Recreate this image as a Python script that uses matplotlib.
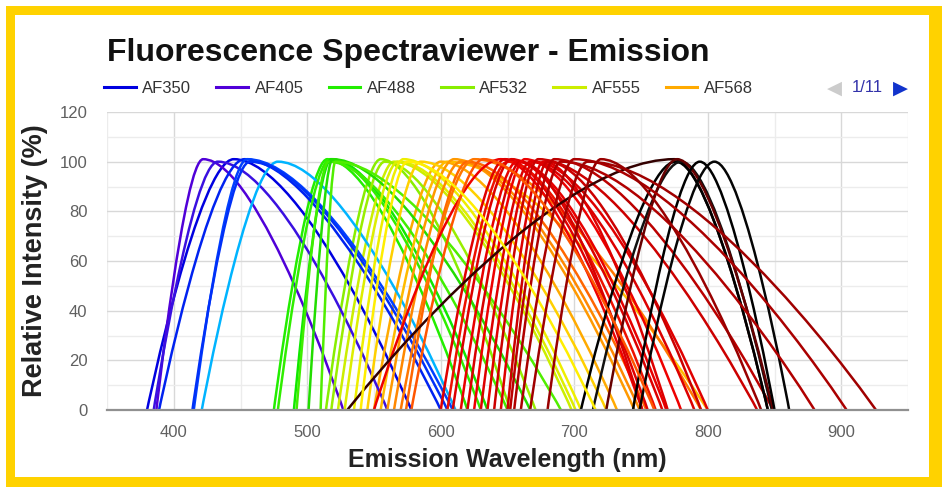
import matplotlib
matplotlib.use("Agg")
import matplotlib.pyplot as plt
from matplotlib.path import Path
from matplotlib.patches import PathPatch, Rectangle
from matplotlib.lines import Line2D
from matplotlib.ticker import MultipleLocator

plt.rcParams["font.family"] = ["Liberation Sans", "DejaVu Sans"]

# emission curves: start of emission, peak, end of emission (nm)
names = ["AF350", "AF405", "AF488", "AF532", "AF555", "AF568",
         "BV421", "AF430", "Pacific Blue", "BV480", "CFP", "AF500",
         "FITC", "GFP", "AF514", "YFP", "AF546", "TRITC", "PE",
         "AF594", "mCherry", "AF610", "PE-TR", "Texas Red", "AF633",
         "AF635", "APC", "AF647", "Cy5", "AF660", "PerCP", "PE-Cy5",
         "AF680", "Cy5.5", "PerCP-Cy5.5", "AF700", "APC-R700", "iRFP",
         "PE-Cy7", "APC-Cy7", "AF750", "Cy7", "AF790", "IRDye800",
         "BB700", "RY586", "PE-CF594", "BUV661", "BUV737", "NIR"]
start_nm = [380, 387, 475, 514, 523, 550,
            385, 421, 389, 415, 414, 478,
            490, 492, 518, 501, 510, 528, 535,
            545, 555, 560, 565, 574, 570,
            550, 600, 605, 609, 615, 620, 625,
            630, 635, 640, 645, 650, 652,
            530, 705, 714, 724, 744, 749,
            655, 578, 540, 660, 667, 680]
peak_nm = [445, 422, 515, 555, 565, 600,
           433, 478, 453, 455, 457, 517,
           518, 516, 558, 519, 521, 568, 572,
           585, 605, 610, 615, 620, 625,
           645, 648, 650, 653, 657, 660, 663,
           667, 670, 673, 677, 680, 685,
           775, 776, 780, 777, 794, 805,
           690, 632, 575, 700, 710, 720]
end_nm = [578, 527, 620, 652, 698, 732,
          560, 611, 600, 609, 605, 630,
          635, 650, 671, 667, 690, 701, 705,
          724, 800, 745, 749, 754, 795,
          751, 755, 761, 766, 769, 751, 780,
          790, 800, 837, 770, 795, 849,
          845, 845, 848, 849, 850, 861,
          880, 760, 716, 904, 926, 840]
peak_pct = [101, 101, 101, 101, 100, 100,
            100, 100, 101, 101, 100, 101,
            101, 100, 100, 101, 100, 100, 101,
            100, 100, 101, 100, 100, 101,
            101, 101, 100, 101, 100, 100, 101,
            100, 100, 101, 100, 100, 101,
            101, 100, 100, 101, 100, 100,
            100, 101, 100, 101, 100, 101]
colors = ["#0000e0", "#5000d8", "#22ee00", "#88ee00", "#ccee00", "#ffaa00",
          "#3a10e0", "#00b4ff", "#0022f0", "#0040ff", "#0030f8", "#30ee00",
          "#10e800", "#40ee00", "#99ee00", "#22dd00", "#50ee00", "#ddee00", "#eeee00",
          "#ffd000", "#ffbb00", "#ff9900", "#ff8800", "#ff6600", "#ff7700",
          "#ee0000", "#e00000", "#ee1100", "#dd0000", "#e80000", "#d80000", "#ee0000",
          "#dd0000", "#e00000", "#cc0000", "#dd0000", "#cc0000", "#bb0000",
          "#330000", "#000000", "#111111", "#660000", "#000000", "#050505",
          "#b00000", "#ff5500", "#ffee00", "#aa0000", "#a00000", "#990000"]

W, H = 942, 487
fig = plt.figure(figsize=(W / 100, H / 100), dpi=100)
fig.patch.set_facecolor("white")

# yellow frame
fig.add_artist(Rectangle((6 / W, 0), 1, 1 - 6 / H, transform=fig.transFigure,
                         facecolor="#ffd200", edgecolor="none", zorder=-10))
fig.add_artist(Rectangle((15 / W, 10 / H), (929 - 15) / W, (477 - 15) / H,
                         transform=fig.transFigure, facecolor="white",
                         edgecolor="none", zorder=-9))

ax = fig.add_axes([107 / W, 1 - 410 / H, (908 - 107) / W, (410 - 112) / H])
ax.set_facecolor("white")
ax.set_xlim(350, 950)
ax.set_ylim(0, 120)


def spline_path(x0, xp, x1, yp):
    # three point spline like the charting lib draws it
    lc = (1.5 * xp + x0) / 2.5
    rc = (1.5 * xp + x1) / 2.5
    verts = [(x0, 0), (x0, 0), (lc, yp), (xp, yp), (rc, yp), (x1, 0), (x1, 0)]
    codes = [Path.MOVETO] + [Path.CURVE4] * 6
    return Path(verts, codes)


for i in range(len(names)):
    p = spline_path(start_nm[i], peak_nm[i], end_nm[i], peak_pct[i])
    ax.add_patch(PathPatch(p, fill=False, edgecolor=colors[i], lw=1.8,
                           capstyle="round", joinstyle="round", zorder=3))

ax.xaxis.set_major_locator(MultipleLocator(100))
ax.xaxis.set_minor_locator(MultipleLocator(50))
ax.yaxis.set_major_locator(MultipleLocator(20))
ax.yaxis.set_minor_locator(MultipleLocator(10))
ax.grid(which="major", color="#d8d8d8", lw=1.0)
ax.grid(which="minor", color="#ececec", lw=1.0)
ax.set_axisbelow(True)
ax.tick_params(which="both", length=0, labelsize=12, labelcolor="#606060")
ax.tick_params(axis="x", pad=11)
ax.tick_params(axis="y", pad=14)
for s in ["top", "left", "right"]:
    ax.spines[s].set_visible(False)
ax.spines["bottom"].set_color("#909090")
ax.spines["bottom"].set_linewidth(1.6)
ax.spines["bottom"].set_zorder(4)

ax.set_xlabel("Emission Wavelength (nm)", fontsize=18, fontweight="bold", color="#222222")
ax.set_ylabel("Relative Intensity (%)", fontsize=19.5, fontweight="bold", color="#222222")
ax.xaxis.set_label_coords(0.5, -0.128)
ax.yaxis.set_label_coords(-0.074, 0.5)

fig.text(107 / W, 1 - 53 / H, "Fluorescence Spectraviewer - Emission",
         fontsize=23, fontweight="bold", ha="left", va="center", color="#111111")

handles = [Line2D([], [], color=colors[i], lw=2.2) for i in range(6)]
fig.legend(handles, names[:6], loc="upper left", bbox_to_anchor=(104 / W, 1 - 81 / H),
           ncol=6, frameon=False, fontsize=12, handlelength=1.9, handletextpad=0.4,
           columnspacing=1.5, borderpad=0, borderaxespad=0, labelcolor="#333333")

fig.text(834 / W, 1 - 88 / H, "\u25c0", fontsize=14, color="#cccccc", ha="center",
         va="center", family="DejaVu Sans")
fig.text(867 / W, 1 - 88 / H, "1/11", fontsize=12, color="#3333aa", ha="center", va="center")
fig.text(900 / W, 1 - 88 / H, "\u25b6", fontsize=14, color="#1133cc", ha="center",
         va="center", family="DejaVu Sans")

fig.savefig("out.png", dpi=100)
